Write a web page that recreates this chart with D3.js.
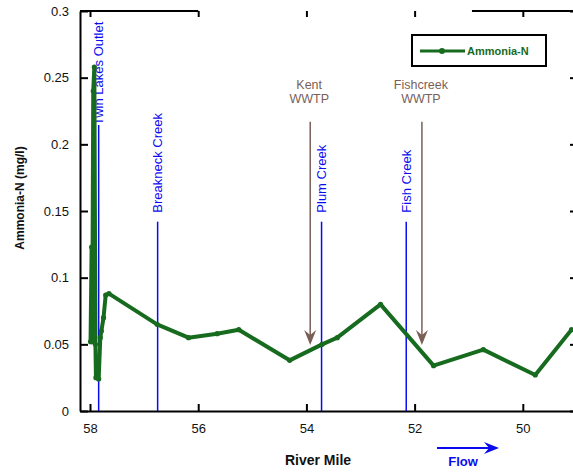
<!DOCTYPE html>
<html>
<head>
<meta charset="utf-8">
<script src="https://cdn.jsdelivr.net/npm/d3@7"></script>
<style>
  body { margin: 0; background: #fff; }
  svg { display: block; font-family: "Liberation Sans", Arial, sans-serif; }
</style>
</head>
<body>
<div class="container"></div>
<script>
// river mile vs ammonia-N readings
const riverMiles = [57.99, 57.97, 57.96, 57.94, 57.92, 57.90, 57.89, 57.84, 57.81, 57.79, 57.75, 57.71, 57.65,
    56.76, 56.18, 55.65, 55.25, 54.31, 53.71, 53.43, 52.63, 51.65, 50.73, 49.77, 49.10];
const ammoniaN = [0.052, 0.123, 0.052, 0.24, 0.258, 0.05, 0.025, 0.024, 0.055, 0.06, 0.07, 0.087, 0.088,
    0.065, 0.055, 0.058, 0.061, 0.038, 0.050, 0.055, 0.080, 0.034, 0.046, 0.027, 0.061];

const creekNames = ["Twin Lakes Outlet", "Breakneck Creek", "Plum Creek", "Fish Creek"];
const creekMiles = [57.84, 56.75, 53.72, 52.155];
const creekTops = [0.2145, 0.142, 0.142, 0.142];

const wwtpNames = [["Kent", "WWTP"], ["Fishcreek", "WWTP"]];
const wwtpMiles = [53.93, 51.865];

const xTicks = [58, 56, 54, 52, 50];
const yTicks = [0, 0.05, 0.1, 0.15, 0.2, 0.25, 0.3];

const width = 573, height = 473,
    green = "#176b1f", blue = "#0a0af0", brown = "#7b5f57";

const svg = d3.select('.container')
    .append('svg')
    .attr('width', width)
    .attr('height', height);

const x = d3.scaleLinear().domain([58.185, 48.98]).range([80, 578]),
    y = d3.scaleLinear().domain([0, 0.3]).range([411, 11]);

const points = riverMiles.map((m, i) => [m, ammoniaN[i]]);

// axes
const xAxisG = svg.append('g')
    .attr('transform', `translate(0,${y(0)})`)
    .call(d3.axisBottom(x).tickValues(xTicks).tickSize(-7).tickPadding(13).tickSizeOuter(0));
const yAxisG = svg.append('g')
    .attr('transform', `translate(${x.range()[0]},0)`)
    .call(d3.axisLeft(y).tickValues(yTicks).tickFormat(d => String(d)).tickSize(-8).tickPadding(11).tickSizeOuter(0));
const rightAxisG = svg.append('g')
    .attr('transform', `translate(${x.range()[1]},0)`)
    .call(d3.axisRight(y).tickValues(yTicks).tickFormat('').tickSize(-8).tickSizeOuter(0));
const topAxisG = svg.append('g')
    .attr('transform', `translate(0,${y(0.3)})`)
    .call(d3.axisTop(x).tickValues(xTicks).tickFormat('').tickSize(-6).tickSizeOuter(0));
topAxisG.select('.domain').remove();

[xAxisG, yAxisG, rightAxisG, topAxisG].forEach(g => {
    g.selectAll('.domain, line').attr('stroke', '#000').attr('stroke-width', 2);
    g.selectAll('text').attr('font-size', 13).attr('fill', '#111');
});

// top border is only partly drawn
[[58.185, 56], [50.94, 48.98]].forEach(([a, b]) => {
    svg.append('line')
        .attr('x1', x(a)).attr('x2', x(b))
        .attr('y1', y(0.3)).attr('y2', y(0.3))
        .attr('stroke', '#000').attr('stroke-width', 2);
});

// creek lines + labels
creekNames.forEach((name, i) => {
    const cx = x(creekMiles[i]);
    svg.append('line')
        .attr('x1', cx).attr('x2', cx)
        .attr('y1', y(0)).attr('y2', y(creekTops[i]))
        .attr('stroke', blue).attr('stroke-width', 1.5);
    const ly = y(creekTops[i]) - (i === 0 ? 0 : 9);
    svg.append('text')
        .attr('transform', `translate(${cx + 4.5},${ly}) rotate(-90)`)
        .attr('text-anchor', 'start')
        .attr('font-size', 13)
        .attr('fill', blue)
        .text(name);
});

// data line
svg.append('path')
    .datum(points)
    .attr('fill', 'none')
    .attr('stroke', green)
    .attr('stroke-width', 4)
    .attr('stroke-linejoin', 'round')
    .attr('d', d3.line().x(d => x(d[0])).y(d => y(d[1])));

svg.selectAll('.pt')
    .data(points)
    .enter()
    .append('circle')
    .attr('class', 'pt')
    .attr('cx', d => x(d[0]))
    .attr('cy', d => y(d[1]))
    .attr('r', 2.6)
    .attr('fill', green);

// WWTP arrows
const arrowDown = "M0,0 L-6,-15 L0,-10 L6,-15 Z";
wwtpNames.forEach((lines, i) => {
    const wx = x(wwtpMiles[i]);
    svg.append('line')
        .attr('x1', wx).attr('x2', wx)
        .attr('y1', y(0.217)).attr('y2', y(0.0495) - 8)
        .attr('stroke', brown).attr('stroke-width', 1.5);
    svg.append('path')
        .attr('d', arrowDown)
        .attr('transform', `translate(${wx},${y(0.0495)})`)
        .attr('fill', brown);
    lines.forEach((t, j) => {
        svg.append('text')
            .attr('x', wx - 1).attr('y', 89 + j * 14)
            .attr('text-anchor', 'middle')
            .attr('font-size', 12.5)
            .attr('fill', brown)
            .text(t);
    });
});

// axis titles
svg.append('text')
    .attr('transform', `translate(24,198) rotate(-90)`)
    .attr('text-anchor', 'middle')
    .attr('font-size', 12)
    .attr('font-weight', 'bold')
    .attr('fill', '#111')
    .text('Ammonia-N (mg/l)');

svg.append('text')
    .attr('x', 318).attr('y', 465)
    .attr('text-anchor', 'middle')
    .attr('font-size', 14)
    .attr('font-weight', 'bold')
    .attr('fill', '#111')
    .text('River Mile');

// flow arrow
svg.append('line')
    .attr('x1', 437).attr('x2', 490)
    .attr('y1', 448).attr('y2', 448)
    .attr('stroke', blue).attr('stroke-width', 2);
svg.append('path')
    .attr('d', arrowDown)
    .attr('transform', 'translate(499,448) rotate(-90)')
    .attr('fill', blue);
svg.append('text')
    .attr('x', 463).attr('y', 466)
    .attr('text-anchor', 'middle')
    .attr('font-size', 13)
    .attr('font-weight', 'bold')
    .attr('fill', blue)
    .text('Flow');

// legend
const legend = svg.append('g').attr('transform', 'translate(412,35)');
legend.append('rect')
    .attr('width', 134).attr('height', 31)
    .attr('fill', '#fff')
    .attr('stroke', '#000').attr('stroke-width', 2);
legend.append('line')
    .attr('x1', 8).attr('x2', 53)
    .attr('y1', 16).attr('y2', 16)
    .attr('stroke', green).attr('stroke-width', 3);
legend.append('circle')
    .attr('cx', 30).attr('cy', 16).attr('r', 3)
    .attr('fill', green);
legend.append('text')
    .attr('x', 55).attr('y', 20)
    .attr('font-size', 11)
    .attr('font-weight', 'bold')
    .attr('fill', green)
    .text('Ammonia-N');
</script>
</body>
</html>
